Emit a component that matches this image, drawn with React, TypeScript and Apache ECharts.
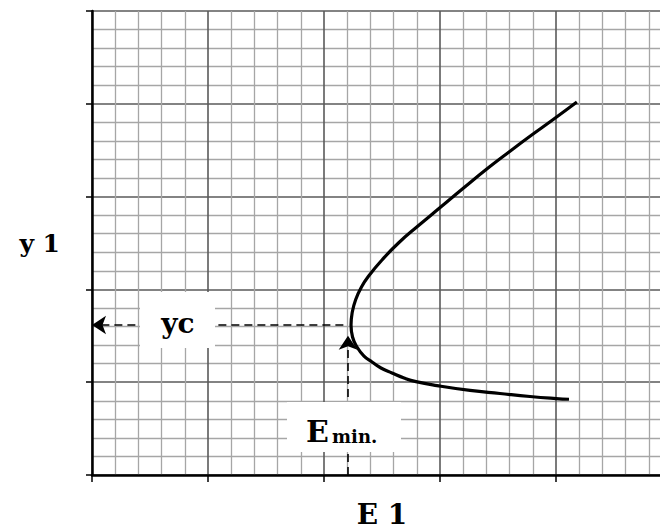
import React, { useEffect, useRef } from "react";
import * as echarts from "echarts";

// Curve (E along x, y along y), traced from the upper end, through the vertex, to the lower end
const curveE = [
  4.18, 3.97, 3.767, 3.595, 3.414, 3.203, 2.996, 2.81, 2.642, 2.5, 2.392, 2.323, 2.272, 2.244, 2.233,
  2.246, 2.284, 2.345, 2.414, 2.491, 2.586, 2.69, 2.793, 2.974, 3.259, 3.517, 3.776, 4.0, 4.112,
];
const curveY = [
  4.019, 3.825, 3.642, 3.481, 3.308, 3.093, 2.877, 2.683, 2.5, 2.317, 2.155, 2.026, 1.886, 1.756, 1.616,
  1.487, 1.379, 1.282, 1.218, 1.153, 1.099, 1.045, 1.006, 0.963, 0.911, 0.878, 0.846, 0.824, 0.816,
];

// Critical point annotations
const E_MIN = 2.207;
const Y_C = 1.616;
const ARROW_TIP_Y = 1.5;

// Axis ranges / ticks (no tick labels shown)
const X_MIN = 0;
const X_MAX = 5;
const Y_MIN = 0;
const Y_MAX = 5;
const MAJOR_STEP = 1;
const MINOR_SPLIT = 5;

// Texts
const xName = "E 1";
const yName = "y 1";
const ycLabel = "yc";
const eminMain = "E";
const eminSub = "min.";

const FONT = "'DejaVu Serif', 'Liberation Serif', serif";

export default function App() {
  const ref = useRef<HTMLDivElement>(null);

  useEffect(() => {
    if (!ref.current) return;
    const chart = echarts.init(ref.current, undefined, { renderer: "svg" });

    const axisCommon = {
      type: "value" as const,
      interval: MAJOR_STEP,
      axisLine: { show: true, onZero: false, lineStyle: { color: "#000", width: 2.5 } },
      axisTick: { show: true, inside: false, lineStyle: { color: "#000", width: 1.5 } },
      axisLabel: { show: false },
      splitLine: { show: true, lineStyle: { color: "#5a5a5a", width: 1.6 } },
      minorTick: { show: false, splitNumber: MINOR_SPLIT },
      minorSplitLine: { show: true, lineStyle: { color: "#a6a6a6", width: 1.3 } },
    };

    const curve = curveE.map((e, i) => [e, curveY[i]]);

    chart.setOption({
      animation: false,
      grid: { left: 92, top: 11, right: 4, bottom: 54, containLabel: false, outerBoundsMode: "none" },
      xAxis: {
        ...axisCommon,
        min: X_MIN,
        max: X_MAX,
        axisTick: { ...axisCommon.axisTick, length: 7 },
        name: xName,
        nameLocation: "middle",
        nameGap: 25,
        nameTextStyle: { fontFamily: FONT, fontWeight: "bold", fontSize: 28, color: "#000" },
      },
      yAxis: {
        ...axisCommon,
        min: Y_MIN,
        max: Y_MAX,
        axisTick: { ...axisCommon.axisTick, length: 6 },
        name: yName,
        nameLocation: "middle",
        nameRotate: 0,
        nameGap: 32,
        nameTextStyle: { fontFamily: FONT, fontWeight: "bold", fontSize: 25, color: "#000" },
      },
      series: [
        {
          type: "line",
          data: curve,
          smooth: 0.5,
          showSymbol: false,
          symbol: "none",
          lineStyle: { color: "#000", width: 3.2 },
          z: 5,
          markLine: {
            silent: true,
            animation: false,
            symbol: ["none", "arrow"],
            symbolSize: 14,
            label: { show: false },
            lineStyle: { color: "#000", width: 1.6, type: [8, 5] },
            data: [
              [{ coord: [E_MIN - 0.04, Y_C] }, { coord: [X_MIN, Y_C] }],
              [{ coord: [E_MIN, Y_MIN] }, { coord: [E_MIN, ARROW_TIP_Y] }],
            ],
          },
        },
      ],
      graphic: [
        { type: "rect", z: 100, shape: { x: 140, y: 292, width: 75, height: 56 }, style: { fill: "#fff" } },
        {
          type: "text",
          z: 101,
          x: 178,
          y: 323,
          style: {
            text: ycLabel,
            font: `bold 28px ${FONT}`,
            fill: "#000",
            textAlign: "center",
            textVerticalAlign: "middle",
            align: "center",
            verticalAlign: "middle",
          },
        },
        { type: "rect", z: 100, shape: { x: 287, y: 402, width: 114, height: 50 }, style: { fill: "#fff" } },
        {
          type: "text",
          z: 101,
          x: 306,
          y: 431,
          style: {
            text: eminMain,
            font: `bold 30px ${FONT}`,
            fill: "#000",
            textAlign: "left",
            textVerticalAlign: "middle",
            align: "left",
            verticalAlign: "middle",
          },
        },
        {
          type: "text",
          z: 101,
          x: 332,
          y: 436,
          style: {
            text: eminSub,
            font: `bold 18px ${FONT}`,
            fill: "#000",
            textAlign: "left",
            textVerticalAlign: "middle",
            align: "left",
            verticalAlign: "middle",
          },
        },
      ],
    });

    return () => chart.dispose();
  }, []);

  return (
    <div style={{ position: "fixed", left: 0, top: 0, width: 660, height: 529, overflow: "hidden", background: "#fff" }}>
      <div ref={ref} style={{ width: 676, height: 529 }} />
    </div>
  );
}
